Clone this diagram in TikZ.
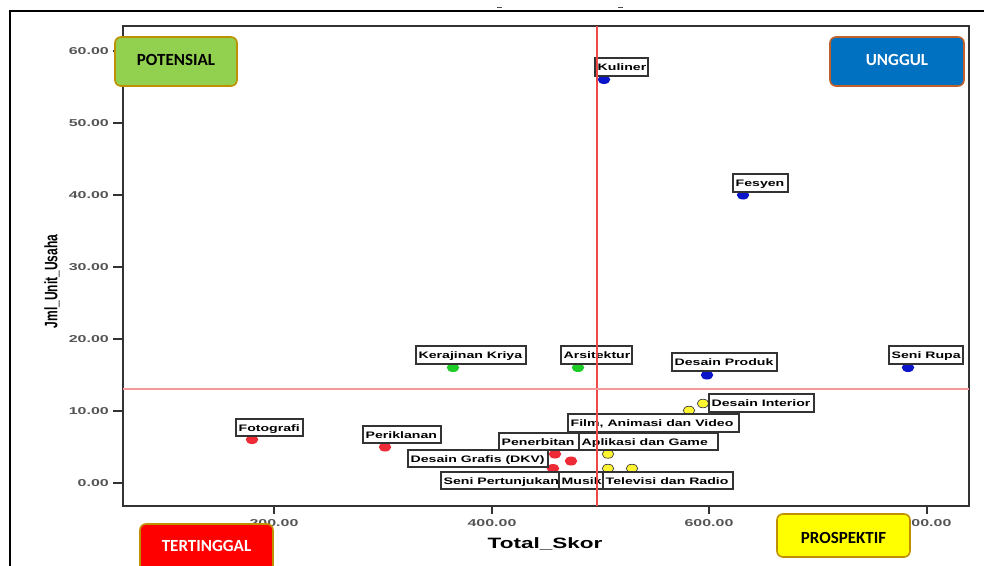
\documentclass[tikz,border=0pt]{standalone}
\usepackage{fontspec}
\setmainfont{Liberation Sans}
\newfontfamily\carl{Carlito}
\usepackage{graphicx}
\usetikzlibrary{shapes.geometric}
\definecolor{dotblue}{HTML}{0A14C8}
\definecolor{dotgreen}{HTML}{1ECC28}
\definecolor{dotred}{HTML}{EE2A36}
\definecolor{dotyellow}{HTML}{FFF530}
\definecolor{qgreen}{HTML}{92D050}
\definecolor{qblue}{HTML}{0070C0}
\definecolor{qred}{HTML}{FF0000}
\definecolor{qyellow}{HTML}{FFFF00}
\definecolor{qgold}{HTML}{BF9000}
\definecolor{qbrown}{HTML}{C0602A}
\definecolor{ticklbl}{HTML}{555555}
\definecolor{vred}{HTML}{EE4848}
\definecolor{hred}{HTML}{F49A9A}
\newcommand{\lbltxt}[1]{\scalebox{1.5}[1]{\bfseries\fontsize{9.4}{10}\selectfont #1}}
\newcommand{\ticktxt}[1]{\scalebox{1.6}[1]{\bfseries\fontsize{10}{11}\selectfont #1}}
\newcommand{\lbl}[6]{%
  \fill[white] (#2,#3) rectangle (#4,#5);
  \begin{scope}
    \clip (#2,#3) rectangle (#4,#5);
    \node[lbltext] (#1) at ({#2+2.5},{(#3+#5)/2}) {\lbltxt{#6}};
  \end{scope}
  \draw[lblbox] (#2,#3) rectangle (#4,#5);
}
\begin{document}
\begin{tikzpicture}[x=1pt,y=-1pt,
  lbltext/.style={anchor=west, inner sep=0pt, text height=7pt, text depth=0pt},
  lblbox/.style={draw=black!80, line width=1.2pt},
  dot/.style={ellipse, inner sep=0pt, minimum width=12.5pt, minimum height=9pt},
  bdot/.style={dot, fill=dotblue},
  gdot/.style={dot, fill=dotgreen},
  rdot/.style={dot, fill=dotred},
  ydot/.style={dot, fill=dotyellow, draw=black!75, line width=0.7pt, minimum width=11.5pt, minimum height=8.5pt},
  quad/.style={rounded corners=6pt, line width=1.6pt, inner sep=0pt, font=\carl\bfseries\fontsize{17}{20}\selectfont},
  ytick/.style={line width=1.4pt, black!80},
  ticklabel/.style={inner sep=0pt, text=ticklbl},
  vline/.style={vred, line width=1.8pt},
  hline/.style={hred, line width=1.6pt}
]
\useasboundingbox (0,0) rectangle (984,565);
\fill[white] (0,0) rectangle (984,565);
% outer frame
\draw[line width=2pt, black] (9.5,566) -- (9.5,11) -- (985,11);
% title remnants
\draw[line width=0.9pt, black!70] (497,7.5) -- (502,7.5);
\draw[line width=0.9pt, black!70] (618,7.5) -- (623,7.5);
% plot frame
\draw[line width=1.3pt, black!80] (123,26) rectangle (969,506);
% y ticks
\foreach \v/\t in {0/0.00,1/10.00,2/20.00,3/30.00,4/40.00,5/50.00,6/60.00} {
  \draw[ytick] (113,{483-72*\v}) -- (123,{483-72*\v});
  \node[ticklabel, anchor=east] (yt\v) at (109,{483.5-72*\v}) {\ticktxt{\t}};
}
% x ticks
\foreach \v/\px in {2/274,4/492,6/709,8/927} {
  \draw[ytick] (\px,506) -- (\px,514);
  \node[ticklabel] (xt\v) at (\px,523.5) {\ticktxt{\v00.00}};
}
% axis titles
\node[inner sep=0pt] (xtitle) at (545,544) {\scalebox{1.5}[1]{\bfseries\fontsize{15}{17}\selectfont Total\_Skor}};
\node[inner sep=0pt, rotate=90] (ytitle) at (52,281.5) {\scalebox{1}[1.5]{\bfseries\fontsize{12}{14}\selectfont Jml\_Unit\_Usaha}};
% points
\node[bdot] (pKul) at (604,79.5) {};
\node[bdot] (pFes) at (743,195) {};
\node[bdot] (pDP) at (707,375) {};
\node[bdot] (pSR) at (908,367.5) {};
\node[gdot] (pKK) at (453,367.5) {};
\node[gdot] (pArs) at (578,367.5) {};
\node[ydot] (pDI) at (703,403.5) {};
\node[ydot] (pFilm) at (689,410.5) {};
\node[ydot] (pApl) at (608,454) {};
\node[ydot] (pMus) at (608,468.5) {};
\node[ydot] (pTV) at (632,468.5) {};
\node[rdot] (pFoto) at (252,439.5) {};
\node[rdot] (pPer) at (385,447) {};
\node[rdot] (pPen) at (555,454) {};
\node[rdot] (pDKV) at (571,461) {};
\node[rdot] (pSP) at (553,468.5) {};
% labels
\lbl{lKul}{595}{58}{648}{76}{Kuliner}
\lbl{lFes}{733}{174}{788}{192}{Fesyen}
\lbl{lSR}{889}{346}{963}{364}{Seni Rupa}
\lbl{lDP}{672}{353}{777}{371}{Desain Produk}
\lbl{lKK}{416}{346}{526}{364}{Kerajinan Kriya}
\lbl{lArs}{561}{346}{632}{364}{Arsitektur}
\lbl{lDI}{709}{394}{814}{412}{Desain Interior}
\lbl{lFilm}{568}{414}{739}{432}{Film, Animasi dan Video}
\lbl{lFoto}{236}{419}{303}{436}{Fotografi}
\lbl{lPer}{363}{426}{441}{443}{Periklanan}
\lbl{lPen}{499}{433}{579}{450}{Penerbitan}
\lbl{lApl}{579}{433}{718}{450}{Aplikasi dan Game}
\lbl{lDKV}{408}{450}{548}{467}{Desain Grafis (DKV)}
\lbl{lSP}{441}{472}{559}{489}{Seni Pertunjukan}
\lbl{lMus}{559}{472}{603}{489}{Musik}
\lbl{lTV}{603}{472}{733}{489}{Televisi dan Radio}
% reference lines
\coordinate (vt) at (597,26);
\coordinate (vb) at (597,506);
\coordinate (hl) at (123,389);
\coordinate (hr) at (969,389);
\draw[vline] (vt) -- (vb);
\draw[hline] (hl) -- (hr);
% quadrant boxes
\node[quad, draw=qgold, fill=qgreen, text=black, minimum width=122pt, minimum height=49pt, text depth=4pt] (qpot) at (176,61.5) {POTENSIAL};
\node[quad, draw=qbrown, fill=qblue, text=white, minimum width=134pt, minimum height=49pt, text depth=4pt] (qung) at (897,61.5) {UNGGUL};
\node[quad, draw=qgold, fill=qred, text=white, minimum width=133pt, minimum height=48pt, text depth=4pt] (qter) at (206.5,548) {TERTINGGAL};
\node[quad, draw=qgold, fill=qyellow, text=black, minimum width=133pt, minimum height=43pt, text height=16pt] (qpro) at (843.5,535.5) {PROSPEKTIF};
\end{tikzpicture}
\end{document}
